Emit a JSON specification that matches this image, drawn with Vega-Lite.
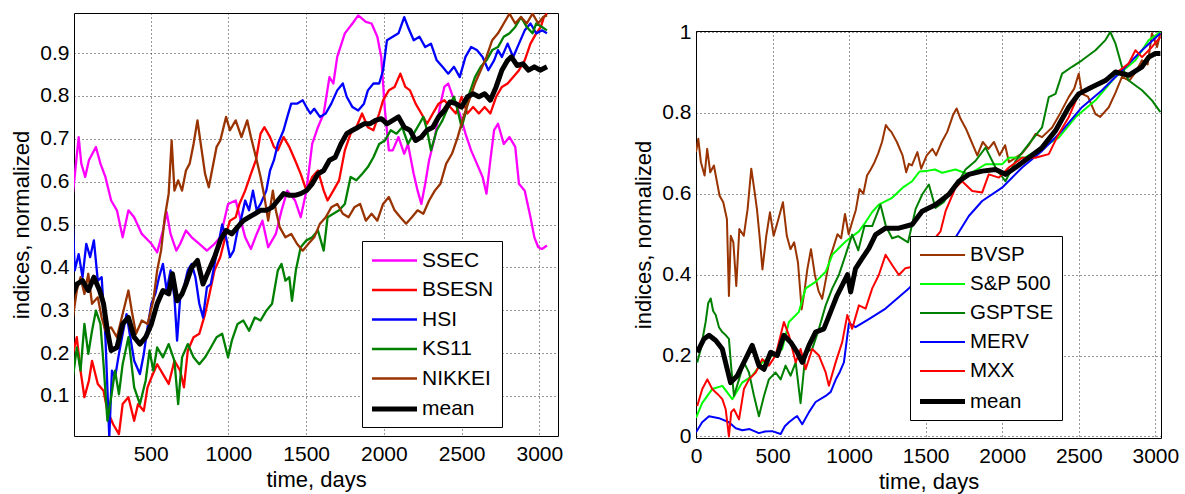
{
"$schema": "https://vega.github.io/schema/vega-lite/v6.json",
"background": "white",
"padding": {"left": 10, "top": 9, "right": 2, "bottom": 2},
"config": {
 "font": "Liberation Sans",
 "view": {"stroke": "#000", "strokeWidth": 1},
 "axis": {"grid": true, "gridColor": "#000", "gridDash": [1, 3], "gridOpacity": 0.8, "gridWidth": 1, "domain": false, "ticks": false, "labelFontSize": 21, "labelColor": "#000", "labelPadding": 7, "labelFlush": false, "labelOverlap": false, "titleFontSize": 22, "titleFontWeight": "normal", "titleColor": "#000", "titlePadding": 5},
 "axisX": {"format": "d"},
 "axisY": {"labelPadding": 5, "titlePadding": 6, "format": "~g"},
 "legend": {"orient": "none", "title": null, "fillColor": "white", "strokeColor": "#000", "padding": 8, "labelFontSize": 21, "labelColor": "#000", "symbolType": "M-2.25,0H2.25", "symbolSize": 400, "symbolOffset": 12, "labelOffset": 15, "rowPadding": 7.5, "labelLimit": 300}
},
"datasets": {
"L": [
{"s":"SSEC","d":0,"v":0.572},{"s":"SSEC","d":37,"v":0.704},{"s":"SSEC","d":54,"v":0.642},{"s":"SSEC","d":79,"v":0.611},{"s":"SSEC","d":103,"v":0.65},{"s":"SSEC","d":148,"v":0.681},{"s":"SSEC","d":177,"v":0.642},{"s":"SSEC","d":209,"v":0.611},{"s":"SSEC","d":246,"v":0.556},{"s":"SSEC","d":283,"v":0.533},{"s":"SSEC","d":320,"v":0.47},{"s":"SSEC","d":357,"v":0.533},{"s":"SSEC","d":394,"v":0.517},{"s":"SSEC","d":443,"v":0.478},{"s":"SSEC","d":505,"v":0.455},{"s":"SSEC","d":542,"v":0.435},{"s":"SSEC","d":579,"v":0.486},{"s":"SSEC","d":603,"v":0.529},{"s":"SSEC","d":628,"v":0.478},{"s":"SSEC","d":665,"v":0.439},{"s":"SSEC","d":690,"v":0.455},{"s":"SSEC","d":727,"v":0.486},{"s":"SSEC","d":764,"v":0.47},{"s":"SSEC","d":813,"v":0.455},{"s":"SSEC","d":862,"v":0.439},{"s":"SSEC","d":911,"v":0.455},{"s":"SSEC","d":948,"v":0.47},{"s":"SSEC","d":998,"v":0.548},{"s":"SSEC","d":1047,"v":0.556},{"s":"SSEC","d":1108,"v":0.47},{"s":"SSEC","d":1145,"v":0.443},{"s":"SSEC","d":1182,"v":0.478},{"s":"SSEC","d":1219,"v":0.509},{"s":"SSEC","d":1256,"v":0.447},{"s":"SSEC","d":1305,"v":0.478},{"s":"SSEC","d":1342,"v":0.533},{"s":"SSEC","d":1379,"v":0.579},{"s":"SSEC","d":1429,"v":0.556},{"s":"SSEC","d":1465,"v":0.517},{"s":"SSEC","d":1502,"v":0.579},{"s":"SSEC","d":1539,"v":0.688},{"s":"SSEC","d":1576,"v":0.727},{"s":"SSEC","d":1613,"v":0.759},{"s":"SSEC","d":1650,"v":0.844},{"s":"SSEC","d":1675,"v":0.829},{"s":"SSEC","d":1700,"v":0.891},{"s":"SSEC","d":1749,"v":0.946},{"s":"SSEC","d":1798,"v":0.969},{"s":"SSEC","d":1835,"v":0.988},{"s":"SSEC","d":1884,"v":0.973},{"s":"SSEC","d":1921,"v":0.969},{"s":"SSEC","d":1958,"v":0.938},{"s":"SSEC","d":1983,"v":0.891},{"s":"SSEC","d":2007,"v":0.766},{"s":"SSEC","d":2032,"v":0.673},{"s":"SSEC","d":2057,"v":0.673},{"s":"SSEC","d":2094,"v":0.704},{"s":"SSEC","d":2131,"v":0.665},{"s":"SSEC","d":2155,"v":0.688},{"s":"SSEC","d":2192,"v":0.618},{"s":"SSEC","d":2217,"v":0.579},{"s":"SSEC","d":2241,"v":0.548},{"s":"SSEC","d":2266,"v":0.595},{"s":"SSEC","d":2291,"v":0.65},{"s":"SSEC","d":2328,"v":0.704},{"s":"SSEC","d":2364,"v":0.782},{"s":"SSEC","d":2389,"v":0.821},{"s":"SSEC","d":2414,"v":0.829},{"s":"SSEC","d":2451,"v":0.79},{"s":"SSEC","d":2488,"v":0.759},{"s":"SSEC","d":2525,"v":0.712},{"s":"SSEC","d":2561,"v":0.673},{"s":"SSEC","d":2598,"v":0.642},{"s":"SSEC","d":2635,"v":0.611},{"s":"SSEC","d":2660,"v":0.572},{"s":"SSEC","d":2685,"v":0.65},{"s":"SSEC","d":2709,"v":0.72},{"s":"SSEC","d":2734,"v":0.735},{"s":"SSEC","d":2771,"v":0.688},{"s":"SSEC","d":2808,"v":0.704},{"s":"SSEC","d":2845,"v":0.681},{"s":"SSEC","d":2869,"v":0.595},{"s":"SSEC","d":2906,"v":0.579},{"s":"SSEC","d":2943,"v":0.517},{"s":"SSEC","d":2968,"v":0.47},{"s":"SSEC","d":2993,"v":0.447},{"s":"SSEC","d":3017,"v":0.443},{"s":"SSEC","d":3049,"v":0.451},
{"s":"BSESN","d":0,"v":0.198},{"s":"BSESN","d":25,"v":0.237},{"s":"BSESN","d":49,"v":0.159},{"s":"BSESN","d":74,"v":0.097},{"s":"BSESN","d":103,"v":0.136},{"s":"BSESN","d":123,"v":0.182},{"s":"BSESN","d":160,"v":0.128},{"s":"BSESN","d":197,"v":0.112},{"s":"BSESN","d":222,"v":0.065},{"s":"BSESN","d":259,"v":0.034},{"s":"BSESN","d":296,"v":0.011},{"s":"BSESN","d":320,"v":0.081},{"s":"BSESN","d":357,"v":0.097},{"s":"BSESN","d":394,"v":0.042},{"s":"BSESN","d":419,"v":0.081},{"s":"BSESN","d":456,"v":0.065},{"s":"BSESN","d":480,"v":0.12},{"s":"BSESN","d":505,"v":0.143},{"s":"BSESN","d":542,"v":0.174},{"s":"BSESN","d":579,"v":0.151},{"s":"BSESN","d":616,"v":0.128},{"s":"BSESN","d":653,"v":0.182},{"s":"BSESN","d":690,"v":0.159},{"s":"BSESN","d":714,"v":0.12},{"s":"BSESN","d":739,"v":0.206},{"s":"BSESN","d":776,"v":0.237},{"s":"BSESN","d":813,"v":0.245},{"s":"BSESN","d":850,"v":0.291},{"s":"BSESN","d":874,"v":0.33},{"s":"BSESN","d":911,"v":0.393},{"s":"BSESN","d":948,"v":0.424},{"s":"BSESN","d":985,"v":0.478},{"s":"BSESN","d":1010,"v":0.509},{"s":"BSESN","d":1047,"v":0.517},{"s":"BSESN","d":1071,"v":0.548},{"s":"BSESN","d":1108,"v":0.579},{"s":"BSESN","d":1145,"v":0.618},{"s":"BSESN","d":1177,"v":0.65},{"s":"BSESN","d":1207,"v":0.712},{"s":"BSESN","d":1232,"v":0.727},{"s":"BSESN","d":1268,"v":0.704},{"s":"BSESN","d":1293,"v":0.681},{"s":"BSESN","d":1318,"v":0.673},{"s":"BSESN","d":1355,"v":0.704},{"s":"BSESN","d":1392,"v":0.681},{"s":"BSESN","d":1429,"v":0.65},{"s":"BSESN","d":1465,"v":0.618},{"s":"BSESN","d":1502,"v":0.579},{"s":"BSESN","d":1539,"v":0.611},{"s":"BSESN","d":1576,"v":0.626},{"s":"BSESN","d":1613,"v":0.579},{"s":"BSESN","d":1638,"v":0.556},{"s":"BSESN","d":1675,"v":0.579},{"s":"BSESN","d":1712,"v":0.603},{"s":"BSESN","d":1749,"v":0.673},{"s":"BSESN","d":1786,"v":0.712},{"s":"BSESN","d":1823,"v":0.727},{"s":"BSESN","d":1860,"v":0.759},{"s":"BSESN","d":1897,"v":0.727},{"s":"BSESN","d":1933,"v":0.72},{"s":"BSESN","d":1970,"v":0.759},{"s":"BSESN","d":1995,"v":0.79},{"s":"BSESN","d":2032,"v":0.813},{"s":"BSESN","d":2069,"v":0.821},{"s":"BSESN","d":2106,"v":0.852},{"s":"BSESN","d":2138,"v":0.821},{"s":"BSESN","d":2168,"v":0.813},{"s":"BSESN","d":2204,"v":0.782},{"s":"BSESN","d":2241,"v":0.759},{"s":"BSESN","d":2278,"v":0.735},{"s":"BSESN","d":2315,"v":0.759},{"s":"BSESN","d":2352,"v":0.782},{"s":"BSESN","d":2389,"v":0.79},{"s":"BSESN","d":2426,"v":0.774},{"s":"BSESN","d":2463,"v":0.759},{"s":"BSESN","d":2500,"v":0.798},{"s":"BSESN","d":2537,"v":0.759},{"s":"BSESN","d":2574,"v":0.774},{"s":"BSESN","d":2611,"v":0.759},{"s":"BSESN","d":2648,"v":0.774},{"s":"BSESN","d":2685,"v":0.759},{"s":"BSESN","d":2722,"v":0.798},{"s":"BSESN","d":2759,"v":0.821},{"s":"BSESN","d":2796,"v":0.829},{"s":"BSESN","d":2832,"v":0.844},{"s":"BSESN","d":2869,"v":0.86},{"s":"BSESN","d":2906,"v":0.883},{"s":"BSESN","d":2943,"v":0.922},{"s":"BSESN","d":2980,"v":0.946},{"s":"BSESN","d":3010,"v":0.961},{"s":"BSESN","d":3029,"v":0.984},{"s":"BSESN","d":3049,"v":0.992},
{"s":"HSI","d":0,"v":0.5},{"s":"HSI","d":12,"v":0.393},{"s":"HSI","d":37,"v":0.431},{"s":"HSI","d":62,"v":0.377},{"s":"HSI","d":86,"v":0.455},{"s":"HSI","d":111,"v":0.424},{"s":"HSI","d":135,"v":0.463},{"s":"HSI","d":160,"v":0.369},{"s":"HSI","d":185,"v":0.377},{"s":"HSI","d":209,"v":0.237},{"s":"HSI","d":234,"v":0.003},{"s":"HSI","d":251,"v":0.159},{"s":"HSI","d":271,"v":0.143},{"s":"HSI","d":296,"v":0.198},{"s":"HSI","d":320,"v":0.245},{"s":"HSI","d":345,"v":0.291},{"s":"HSI","d":369,"v":0.237},{"s":"HSI","d":394,"v":0.182},{"s":"HSI","d":431,"v":0.151},{"s":"HSI","d":456,"v":0.198},{"s":"HSI","d":480,"v":0.26},{"s":"HSI","d":505,"v":0.315},{"s":"HSI","d":530,"v":0.338},{"s":"HSI","d":554,"v":0.377},{"s":"HSI","d":579,"v":0.408},{"s":"HSI","d":603,"v":0.346},{"s":"HSI","d":628,"v":0.393},{"s":"HSI","d":653,"v":0.33},{"s":"HSI","d":670,"v":0.229},{"s":"HSI","d":690,"v":0.33},{"s":"HSI","d":714,"v":0.354},{"s":"HSI","d":739,"v":0.393},{"s":"HSI","d":764,"v":0.408},{"s":"HSI","d":788,"v":0.377},{"s":"HSI","d":813,"v":0.315},{"s":"HSI","d":837,"v":0.283},{"s":"HSI","d":862,"v":0.354},{"s":"HSI","d":887,"v":0.361},{"s":"HSI","d":911,"v":0.408},{"s":"HSI","d":936,"v":0.455},{"s":"HSI","d":960,"v":0.5},{"s":"HSI","d":985,"v":0.47},{"s":"HSI","d":1010,"v":0.424},{"s":"HSI","d":1034,"v":0.439},{"s":"HSI","d":1059,"v":0.486},{"s":"HSI","d":1084,"v":0.517},{"s":"HSI","d":1108,"v":0.556},{"s":"HSI","d":1133,"v":0.533},{"s":"HSI","d":1158,"v":0.579},{"s":"HSI","d":1182,"v":0.533},{"s":"HSI","d":1207,"v":0.548},{"s":"HSI","d":1244,"v":0.579},{"s":"HSI","d":1268,"v":0.626},{"s":"HSI","d":1293,"v":0.65},{"s":"HSI","d":1318,"v":0.688},{"s":"HSI","d":1355,"v":0.72},{"s":"HSI","d":1379,"v":0.751},{"s":"HSI","d":1404,"v":0.782},{"s":"HSI","d":1441,"v":0.782},{"s":"HSI","d":1478,"v":0.79},{"s":"HSI","d":1502,"v":0.774},{"s":"HSI","d":1527,"v":0.759},{"s":"HSI","d":1552,"v":0.77},{"s":"HSI","d":1589,"v":0.751},{"s":"HSI","d":1626,"v":0.759},{"s":"HSI","d":1662,"v":0.782},{"s":"HSI","d":1700,"v":0.813},{"s":"HSI","d":1736,"v":0.829},{"s":"HSI","d":1761,"v":0.798},{"s":"HSI","d":1798,"v":0.774},{"s":"HSI","d":1835,"v":0.766},{"s":"HSI","d":1872,"v":0.782},{"s":"HSI","d":1897,"v":0.813},{"s":"HSI","d":1933,"v":0.829},{"s":"HSI","d":1970,"v":0.829},{"s":"HSI","d":1995,"v":0.86},{"s":"HSI","d":2020,"v":0.93},{"s":"HSI","d":2057,"v":0.938},{"s":"HSI","d":2094,"v":0.946},{"s":"HSI","d":2131,"v":0.984},{"s":"HSI","d":2155,"v":0.961},{"s":"HSI","d":2192,"v":0.93},{"s":"HSI","d":2229,"v":0.938},{"s":"HSI","d":2266,"v":0.914},{"s":"HSI","d":2303,"v":0.922},{"s":"HSI","d":2340,"v":0.883},{"s":"HSI","d":2377,"v":0.868},{"s":"HSI","d":2414,"v":0.852},{"s":"HSI","d":2451,"v":0.868},{"s":"HSI","d":2488,"v":0.844},{"s":"HSI","d":2525,"v":0.891},{"s":"HSI","d":2561,"v":0.914},{"s":"HSI","d":2598,"v":0.907},{"s":"HSI","d":2635,"v":0.891},{"s":"HSI","d":2672,"v":0.86},{"s":"HSI","d":2709,"v":0.883},{"s":"HSI","d":2734,"v":0.907},{"s":"HSI","d":2759,"v":0.891},{"s":"HSI","d":2796,"v":0.922},{"s":"HSI","d":2832,"v":0.891},{"s":"HSI","d":2869,"v":0.922},{"s":"HSI","d":2906,"v":0.953},{"s":"HSI","d":2943,"v":0.969},{"s":"HSI","d":2980,"v":0.946},{"s":"HSI","d":3017,"v":0.953},{"s":"HSI","d":3049,"v":0.946},
{"s":"KS11","d":0,"v":0.143},{"s":"KS11","d":25,"v":0.213},{"s":"KS11","d":49,"v":0.159},{"s":"KS11","d":74,"v":0.268},{"s":"KS11","d":99,"v":0.198},{"s":"KS11","d":123,"v":0.252},{"s":"KS11","d":148,"v":0.299},{"s":"KS11","d":177,"v":0.268},{"s":"KS11","d":197,"v":0.174},{"s":"KS11","d":222,"v":0.042},{"s":"KS11","d":246,"v":0.097},{"s":"KS11","d":271,"v":0.159},{"s":"KS11","d":296,"v":0.104},{"s":"KS11","d":320,"v":0.174},{"s":"KS11","d":357,"v":0.237},{"s":"KS11","d":394,"v":0.12},{"s":"KS11","d":431,"v":0.081},{"s":"KS11","d":468,"v":0.136},{"s":"KS11","d":493,"v":0.206},{"s":"KS11","d":517,"v":0.159},{"s":"KS11","d":542,"v":0.213},{"s":"KS11","d":579,"v":0.19},{"s":"KS11","d":616,"v":0.221},{"s":"KS11","d":653,"v":0.182},{"s":"KS11","d":677,"v":0.081},{"s":"KS11","d":702,"v":0.19},{"s":"KS11","d":739,"v":0.221},{"s":"KS11","d":776,"v":0.19},{"s":"KS11","d":813,"v":0.174},{"s":"KS11","d":850,"v":0.19},{"s":"KS11","d":887,"v":0.213},{"s":"KS11","d":924,"v":0.237},{"s":"KS11","d":960,"v":0.245},{"s":"KS11","d":998,"v":0.19},{"s":"KS11","d":1022,"v":0.229},{"s":"KS11","d":1059,"v":0.268},{"s":"KS11","d":1096,"v":0.276},{"s":"KS11","d":1133,"v":0.252},{"s":"KS11","d":1170,"v":0.283},{"s":"KS11","d":1207,"v":0.276},{"s":"KS11","d":1244,"v":0.299},{"s":"KS11","d":1281,"v":0.315},{"s":"KS11","d":1318,"v":0.393},{"s":"KS11","d":1342,"v":0.408},{"s":"KS11","d":1367,"v":0.369},{"s":"KS11","d":1392,"v":0.377},{"s":"KS11","d":1409,"v":0.322},{"s":"KS11","d":1434,"v":0.393},{"s":"KS11","d":1465,"v":0.447},{"s":"KS11","d":1502,"v":0.463},{"s":"KS11","d":1539,"v":0.47},{"s":"KS11","d":1576,"v":0.486},{"s":"KS11","d":1613,"v":0.439},{"s":"KS11","d":1638,"v":0.517},{"s":"KS11","d":1675,"v":0.525},{"s":"KS11","d":1712,"v":0.533},{"s":"KS11","d":1749,"v":0.548},{"s":"KS11","d":1786,"v":0.611},{"s":"KS11","d":1823,"v":0.603},{"s":"KS11","d":1860,"v":0.618},{"s":"KS11","d":1897,"v":0.634},{"s":"KS11","d":1933,"v":0.657},{"s":"KS11","d":1970,"v":0.688},{"s":"KS11","d":2007,"v":0.696},{"s":"KS11","d":2044,"v":0.72},{"s":"KS11","d":2081,"v":0.712},{"s":"KS11","d":2118,"v":0.727},{"s":"KS11","d":2155,"v":0.688},{"s":"KS11","d":2192,"v":0.712},{"s":"KS11","d":2229,"v":0.735},{"s":"KS11","d":2254,"v":0.751},{"s":"KS11","d":2278,"v":0.72},{"s":"KS11","d":2303,"v":0.673},{"s":"KS11","d":2340,"v":0.72},{"s":"KS11","d":2377,"v":0.743},{"s":"KS11","d":2414,"v":0.774},{"s":"KS11","d":2451,"v":0.798},{"s":"KS11","d":2475,"v":0.766},{"s":"KS11","d":2500,"v":0.727},{"s":"KS11","d":2525,"v":0.759},{"s":"KS11","d":2549,"v":0.805},{"s":"KS11","d":2586,"v":0.844},{"s":"KS11","d":2623,"v":0.868},{"s":"KS11","d":2660,"v":0.883},{"s":"KS11","d":2697,"v":0.907},{"s":"KS11","d":2734,"v":0.914},{"s":"KS11","d":2771,"v":0.938},{"s":"KS11","d":2808,"v":0.946},{"s":"KS11","d":2845,"v":0.961},{"s":"KS11","d":2882,"v":0.984},{"s":"KS11","d":2919,"v":0.961},{"s":"KS11","d":2956,"v":0.946},{"s":"KS11","d":2980,"v":0.969},{"s":"KS11","d":3017,"v":0.961},{"s":"KS11","d":3049,"v":0.953},
{"s":"NIKKEI","d":0,"v":0.283},{"s":"NIKKEI","d":25,"v":0.346},{"s":"NIKKEI","d":49,"v":0.377},{"s":"NIKKEI","d":74,"v":0.338},{"s":"NIKKEI","d":99,"v":0.385},{"s":"NIKKEI","d":123,"v":0.315},{"s":"NIKKEI","d":160,"v":0.33},{"s":"NIKKEI","d":185,"v":0.283},{"s":"NIKKEI","d":209,"v":0.252},{"s":"NIKKEI","d":246,"v":0.26},{"s":"NIKKEI","d":283,"v":0.237},{"s":"NIKKEI","d":320,"v":0.291},{"s":"NIKKEI","d":357,"v":0.346},{"s":"NIKKEI","d":382,"v":0.291},{"s":"NIKKEI","d":406,"v":0.245},{"s":"NIKKEI","d":443,"v":0.276},{"s":"NIKKEI","d":480,"v":0.268},{"s":"NIKKEI","d":517,"v":0.322},{"s":"NIKKEI","d":542,"v":0.393},{"s":"NIKKEI","d":567,"v":0.439},{"s":"NIKKEI","d":591,"v":0.517},{"s":"NIKKEI","d":616,"v":0.572},{"s":"NIKKEI","d":635,"v":0.696},{"s":"NIKKEI","d":653,"v":0.579},{"s":"NIKKEI","d":677,"v":0.603},{"s":"NIKKEI","d":702,"v":0.579},{"s":"NIKKEI","d":727,"v":0.626},{"s":"NIKKEI","d":751,"v":0.642},{"s":"NIKKEI","d":776,"v":0.688},{"s":"NIKKEI","d":801,"v":0.743},{"s":"NIKKEI","d":825,"v":0.681},{"s":"NIKKEI","d":850,"v":0.618},{"s":"NIKKEI","d":874,"v":0.587},{"s":"NIKKEI","d":899,"v":0.634},{"s":"NIKKEI","d":924,"v":0.681},{"s":"NIKKEI","d":948,"v":0.696},{"s":"NIKKEI","d":985,"v":0.751},{"s":"NIKKEI","d":1010,"v":0.72},{"s":"NIKKEI","d":1047,"v":0.743},{"s":"NIKKEI","d":1084,"v":0.704},{"s":"NIKKEI","d":1121,"v":0.743},{"s":"NIKKEI","d":1145,"v":0.704},{"s":"NIKKEI","d":1182,"v":0.65},{"s":"NIKKEI","d":1207,"v":0.611},{"s":"NIKKEI","d":1232,"v":0.564},{"s":"NIKKEI","d":1256,"v":0.509},{"s":"NIKKEI","d":1286,"v":0.579},{"s":"NIKKEI","d":1305,"v":0.533},{"s":"NIKKEI","d":1330,"v":0.494},{"s":"NIKKEI","d":1367,"v":0.47},{"s":"NIKKEI","d":1404,"v":0.478},{"s":"NIKKEI","d":1441,"v":0.455},{"s":"NIKKEI","d":1478,"v":0.439},{"s":"NIKKEI","d":1515,"v":0.455},{"s":"NIKKEI","d":1552,"v":0.47},{"s":"NIKKEI","d":1589,"v":0.502},{"s":"NIKKEI","d":1626,"v":0.517},{"s":"NIKKEI","d":1662,"v":0.54},{"s":"NIKKEI","d":1700,"v":0.548},{"s":"NIKKEI","d":1736,"v":0.525},{"s":"NIKKEI","d":1773,"v":0.517},{"s":"NIKKEI","d":1810,"v":0.54},{"s":"NIKKEI","d":1847,"v":0.548},{"s":"NIKKEI","d":1884,"v":0.509},{"s":"NIKKEI","d":1921,"v":0.525},{"s":"NIKKEI","d":1958,"v":0.509},{"s":"NIKKEI","d":1995,"v":0.548},{"s":"NIKKEI","d":2032,"v":0.564},{"s":"NIKKEI","d":2069,"v":0.533},{"s":"NIKKEI","d":2106,"v":0.517},{"s":"NIKKEI","d":2143,"v":0.502},{"s":"NIKKEI","d":2180,"v":0.517},{"s":"NIKKEI","d":2217,"v":0.533},{"s":"NIKKEI","d":2254,"v":0.525},{"s":"NIKKEI","d":2291,"v":0.556},{"s":"NIKKEI","d":2328,"v":0.579},{"s":"NIKKEI","d":2364,"v":0.595},{"s":"NIKKEI","d":2401,"v":0.642},{"s":"NIKKEI","d":2438,"v":0.665},{"s":"NIKKEI","d":2475,"v":0.704},{"s":"NIKKEI","d":2512,"v":0.751},{"s":"NIKKEI","d":2549,"v":0.79},{"s":"NIKKEI","d":2586,"v":0.829},{"s":"NIKKEI","d":2623,"v":0.86},{"s":"NIKKEI","d":2660,"v":0.891},{"s":"NIKKEI","d":2697,"v":0.93},{"s":"NIKKEI","d":2734,"v":0.946},{"s":"NIKKEI","d":2771,"v":0.969},{"s":"NIKKEI","d":2808,"v":0.992},{"s":"NIKKEI","d":2845,"v":0.969},{"s":"NIKKEI","d":2882,"v":0.984},{"s":"NIKKEI","d":2919,"v":0.969},{"s":"NIKKEI","d":2956,"v":0.992},{"s":"NIKKEI","d":2993,"v":0.969},{"s":"NIKKEI","d":3025,"v":0.984},{"s":"NIKKEI","d":3049,"v":0.988},
{"s":"mean","d":0,"v":0.338},{"s":"mean","d":25,"v":0.361},{"s":"mean","d":62,"v":0.369},{"s":"mean","d":99,"v":0.346},{"s":"mean","d":135,"v":0.377},{"s":"mean","d":172,"v":0.346},{"s":"mean","d":197,"v":0.315},{"s":"mean","d":222,"v":0.252},{"s":"mean","d":246,"v":0.206},{"s":"mean","d":283,"v":0.213},{"s":"mean","d":320,"v":0.268},{"s":"mean","d":357,"v":0.283},{"s":"mean","d":394,"v":0.237},{"s":"mean","d":431,"v":0.221},{"s":"mean","d":468,"v":0.237},{"s":"mean","d":505,"v":0.268},{"s":"mean","d":542,"v":0.315},{"s":"mean","d":579,"v":0.346},{"s":"mean","d":616,"v":0.338},{"s":"mean","d":640,"v":0.385},{"s":"mean","d":670,"v":0.322},{"s":"mean","d":702,"v":0.338},{"s":"mean","d":727,"v":0.361},{"s":"mean","d":764,"v":0.4},{"s":"mean","d":801,"v":0.416},{"s":"mean","d":837,"v":0.361},{"s":"mean","d":874,"v":0.393},{"s":"mean","d":911,"v":0.424},{"s":"mean","d":948,"v":0.463},{"s":"mean","d":985,"v":0.486},{"s":"mean","d":1022,"v":0.478},{"s":"mean","d":1059,"v":0.494},{"s":"mean","d":1096,"v":0.509},{"s":"mean","d":1133,"v":0.517},{"s":"mean","d":1170,"v":0.525},{"s":"mean","d":1207,"v":0.533},{"s":"mean","d":1244,"v":0.533},{"s":"mean","d":1281,"v":0.54},{"s":"mean","d":1318,"v":0.556},{"s":"mean","d":1355,"v":0.572},{"s":"mean","d":1392,"v":0.568},{"s":"mean","d":1429,"v":0.568},{"s":"mean","d":1465,"v":0.572},{"s":"mean","d":1502,"v":0.579},{"s":"mean","d":1539,"v":0.595},{"s":"mean","d":1576,"v":0.618},{"s":"mean","d":1613,"v":0.626},{"s":"mean","d":1650,"v":0.65},{"s":"mean","d":1687,"v":0.657},{"s":"mean","d":1724,"v":0.688},{"s":"mean","d":1761,"v":0.712},{"s":"mean","d":1798,"v":0.72},{"s":"mean","d":1835,"v":0.727},{"s":"mean","d":1872,"v":0.735},{"s":"mean","d":1909,"v":0.735},{"s":"mean","d":1946,"v":0.743},{"s":"mean","d":1983,"v":0.747},{"s":"mean","d":2020,"v":0.735},{"s":"mean","d":2057,"v":0.743},{"s":"mean","d":2094,"v":0.751},{"s":"mean","d":2131,"v":0.727},{"s":"mean","d":2168,"v":0.72},{"s":"mean","d":2204,"v":0.696},{"s":"mean","d":2241,"v":0.704},{"s":"mean","d":2278,"v":0.72},{"s":"mean","d":2315,"v":0.727},{"s":"mean","d":2352,"v":0.751},{"s":"mean","d":2389,"v":0.766},{"s":"mean","d":2426,"v":0.786},{"s":"mean","d":2463,"v":0.782},{"s":"mean","d":2500,"v":0.774},{"s":"mean","d":2537,"v":0.798},{"s":"mean","d":2574,"v":0.805},{"s":"mean","d":2611,"v":0.798},{"s":"mean","d":2648,"v":0.805},{"s":"mean","d":2685,"v":0.79},{"s":"mean","d":2722,"v":0.821},{"s":"mean","d":2759,"v":0.86},{"s":"mean","d":2796,"v":0.883},{"s":"mean","d":2820,"v":0.891},{"s":"mean","d":2857,"v":0.871},{"s":"mean","d":2894,"v":0.875},{"s":"mean","d":2931,"v":0.86},{"s":"mean","d":2968,"v":0.868},{"s":"mean","d":3005,"v":0.86},{"s":"mean","d":3049,"v":0.868}
],
"R": [
{"s":"BVSP","d":0,"v":0.703},{"s":"BVSP","d":15,"v":0.736},{"s":"BVSP","d":32,"v":0.678},{"s":"BVSP","d":56,"v":0.645},{"s":"BVSP","d":73,"v":0.711},{"s":"BVSP","d":93,"v":0.653},{"s":"BVSP","d":117,"v":0.67},{"s":"BVSP","d":137,"v":0.629},{"s":"BVSP","d":154,"v":0.595},{"s":"BVSP","d":178,"v":0.579},{"s":"BVSP","d":202,"v":0.537},{"s":"BVSP","d":215,"v":0.347},{"s":"BVSP","d":227,"v":0.496},{"s":"BVSP","d":244,"v":0.48},{"s":"BVSP","d":263,"v":0.372},{"s":"BVSP","d":283,"v":0.513},{"s":"BVSP","d":312,"v":0.496},{"s":"BVSP","d":337,"v":0.562},{"s":"BVSP","d":361,"v":0.662},{"s":"BVSP","d":380,"v":0.612},{"s":"BVSP","d":398,"v":0.562},{"s":"BVSP","d":415,"v":0.496},{"s":"BVSP","d":434,"v":0.413},{"s":"BVSP","d":459,"v":0.496},{"s":"BVSP","d":483,"v":0.554},{"s":"BVSP","d":507,"v":0.496},{"s":"BVSP","d":532,"v":0.529},{"s":"BVSP","d":568,"v":0.579},{"s":"BVSP","d":593,"v":0.496},{"s":"BVSP","d":617,"v":0.463},{"s":"BVSP","d":641,"v":0.48},{"s":"BVSP","d":666,"v":0.43},{"s":"BVSP","d":690,"v":0.314},{"s":"BVSP","d":707,"v":0.355},{"s":"BVSP","d":727,"v":0.413},{"s":"BVSP","d":751,"v":0.463},{"s":"BVSP","d":776,"v":0.4},{"s":"BVSP","d":800,"v":0.36},{"s":"BVSP","d":824,"v":0.34},{"s":"BVSP","d":849,"v":0.39},{"s":"BVSP","d":874,"v":0.44},{"s":"BVSP","d":899,"v":0.47},{"s":"BVSP","d":924,"v":0.5},{"s":"BVSP","d":948,"v":0.49},{"s":"BVSP","d":973,"v":0.55},{"s":"BVSP","d":997,"v":0.5},{"s":"BVSP","d":1020,"v":0.53},{"s":"BVSP","d":1044,"v":0.56},{"s":"BVSP","d":1068,"v":0.612},{"s":"BVSP","d":1093,"v":0.6},{"s":"BVSP","d":1117,"v":0.645},{"s":"BVSP","d":1141,"v":0.66},{"s":"BVSP","d":1166,"v":0.678},{"s":"BVSP","d":1190,"v":0.7},{"s":"BVSP","d":1215,"v":0.728},{"s":"BVSP","d":1240,"v":0.77},{"s":"BVSP","d":1258,"v":0.76},{"s":"BVSP","d":1276,"v":0.753},{"s":"BVSP","d":1312,"v":0.728},{"s":"BVSP","d":1349,"v":0.695},{"s":"BVSP","d":1373,"v":0.653},{"s":"BVSP","d":1390,"v":0.674},{"s":"BVSP","d":1410,"v":0.67},{"s":"BVSP","d":1446,"v":0.703},{"s":"BVSP","d":1471,"v":0.662},{"s":"BVSP","d":1507,"v":0.695},{"s":"BVSP","d":1544,"v":0.711},{"s":"BVSP","d":1568,"v":0.695},{"s":"BVSP","d":1605,"v":0.728},{"s":"BVSP","d":1641,"v":0.753},{"s":"BVSP","d":1678,"v":0.794},{"s":"BVSP","d":1702,"v":0.811},{"s":"BVSP","d":1727,"v":0.786},{"s":"BVSP","d":1763,"v":0.761},{"s":"BVSP","d":1800,"v":0.728},{"s":"BVSP","d":1837,"v":0.695},{"s":"BVSP","d":1873,"v":0.728},{"s":"BVSP","d":1910,"v":0.711},{"s":"BVSP","d":1946,"v":0.728},{"s":"BVSP","d":1983,"v":0.695},{"s":"BVSP","d":2019,"v":0.72},{"s":"BVSP","d":2044,"v":0.678},{"s":"BVSP","d":2090,"v":0.69},{"s":"BVSP","d":2130,"v":0.7},{"s":"BVSP","d":2173,"v":0.72},{"s":"BVSP","d":2217,"v":0.748},{"s":"BVSP","d":2260,"v":0.74},{"s":"BVSP","d":2326,"v":0.764},{"s":"BVSP","d":2380,"v":0.8},{"s":"BVSP","d":2434,"v":0.839},{"s":"BVSP","d":2470,"v":0.86},{"s":"BVSP","d":2500,"v":0.897},{"s":"BVSP","d":2521,"v":0.847},{"s":"BVSP","d":2560,"v":0.84},{"s":"BVSP","d":2609,"v":0.797},{"s":"BVSP","d":2640,"v":0.79},{"s":"BVSP","d":2696,"v":0.814},{"s":"BVSP","d":2740,"v":0.85},{"s":"BVSP","d":2782,"v":0.889},{"s":"BVSP","d":2830,"v":0.88},{"s":"BVSP","d":2870,"v":0.9},{"s":"BVSP","d":2913,"v":0.93},{"s":"BVSP","d":2950,"v":0.92},{"s":"BVSP","d":2978,"v":0.997},{"s":"BVSP","d":3011,"v":0.963},{"s":"BVSP","d":3033,"v":0.997},
{"s":"S&P 500","d":0,"v":0.046},{"s":"S&P 500","d":41,"v":0.083},{"s":"S&P 500","d":106,"v":0.117},{"s":"S&P 500","d":172,"v":0.125},{"s":"S&P 500","d":237,"v":0.092},{"s":"S&P 500","d":302,"v":0.133},{"s":"S&P 500","d":367,"v":0.15},{"s":"S&P 500","d":433,"v":0.183},{"s":"S&P 500","d":498,"v":0.2},{"s":"S&P 500","d":563,"v":0.216},{"s":"S&P 500","d":607,"v":0.283},{"s":"S&P 500","d":672,"v":0.308},{"s":"S&P 500","d":716,"v":0.366},{"s":"S&P 500","d":781,"v":0.382},{"s":"S&P 500","d":847,"v":0.407},{"s":"S&P 500","d":890,"v":0.449},{"s":"S&P 500","d":977,"v":0.482},{"s":"S&P 500","d":1064,"v":0.507},{"s":"S&P 500","d":1108,"v":0.53},{"s":"S&P 500","d":1151,"v":0.555},{"s":"S&P 500","d":1194,"v":0.573},{"s":"S&P 500","d":1281,"v":0.59},{"s":"S&P 500","d":1350,"v":0.615},{"s":"S&P 500","d":1412,"v":0.631},{"s":"S&P 500","d":1460,"v":0.655},{"s":"S&P 500","d":1499,"v":0.656},{"s":"S&P 500","d":1560,"v":0.66},{"s":"S&P 500","d":1608,"v":0.652},{"s":"S&P 500","d":1695,"v":0.66},{"s":"S&P 500","d":1782,"v":0.648},{"s":"S&P 500","d":1891,"v":0.673},{"s":"S&P 500","d":1999,"v":0.673},{"s":"S&P 500","d":2043,"v":0.689},{"s":"S&P 500","d":2150,"v":0.69},{"s":"S&P 500","d":2260,"v":0.714},{"s":"S&P 500","d":2369,"v":0.739},{"s":"S&P 500","d":2478,"v":0.789},{"s":"S&P 500","d":2609,"v":0.831},{"s":"S&P 500","d":2739,"v":0.889},{"s":"S&P 500","d":2870,"v":0.93},{"s":"S&P 500","d":2957,"v":0.98},{"s":"S&P 500","d":3033,"v":1.0},
{"s":"GSPTSE","d":8,"v":0.183},{"s":"GSPTSE","d":31,"v":0.216},{"s":"GSPTSE","d":63,"v":0.283},{"s":"GSPTSE","d":80,"v":0.33},{"s":"GSPTSE","d":96,"v":0.341},{"s":"GSPTSE","d":112,"v":0.31},{"s":"GSPTSE","d":129,"v":0.3},{"s":"GSPTSE","d":150,"v":0.27},{"s":"GSPTSE","d":172,"v":0.258},{"s":"GSPTSE","d":195,"v":0.25},{"s":"GSPTSE","d":215,"v":0.241},{"s":"GSPTSE","d":230,"v":0.17},{"s":"GSPTSE","d":248,"v":0.1},{"s":"GSPTSE","d":281,"v":0.141},{"s":"GSPTSE","d":313,"v":0.183},{"s":"GSPTSE","d":346,"v":0.158},{"s":"GSPTSE","d":379,"v":0.1},{"s":"GSPTSE","d":411,"v":0.05},{"s":"GSPTSE","d":444,"v":0.1},{"s":"GSPTSE","d":476,"v":0.141},{"s":"GSPTSE","d":520,"v":0.158},{"s":"GSPTSE","d":553,"v":0.141},{"s":"GSPTSE","d":585,"v":0.175},{"s":"GSPTSE","d":618,"v":0.15},{"s":"GSPTSE","d":651,"v":0.183},{"s":"GSPTSE","d":683,"v":0.082},{"s":"GSPTSE","d":716,"v":0.208},{"s":"GSPTSE","d":759,"v":0.216},{"s":"GSPTSE","d":803,"v":0.266},{"s":"GSPTSE","d":847,"v":0.324},{"s":"GSPTSE","d":890,"v":0.366},{"s":"GSPTSE","d":933,"v":0.399},{"s":"GSPTSE","d":977,"v":0.449},{"s":"GSPTSE","d":1020,"v":0.499},{"s":"GSPTSE","d":1060,"v":0.46},{"s":"GSPTSE","d":1100,"v":0.52},{"s":"GSPTSE","d":1151,"v":0.52},{"s":"GSPTSE","d":1205,"v":0.573},{"s":"GSPTSE","d":1240,"v":0.52},{"s":"GSPTSE","d":1281,"v":0.49},{"s":"GSPTSE","d":1320,"v":0.495},{"s":"GSPTSE","d":1385,"v":0.48},{"s":"GSPTSE","d":1434,"v":0.562},{"s":"GSPTSE","d":1477,"v":0.598},{"s":"GSPTSE","d":1521,"v":0.623},{"s":"GSPTSE","d":1564,"v":0.565},{"s":"GSPTSE","d":1617,"v":0.579},{"s":"GSPTSE","d":1651,"v":0.598},{"s":"GSPTSE","d":1700,"v":0.62},{"s":"GSPTSE","d":1760,"v":0.66},{"s":"GSPTSE","d":1825,"v":0.681},{"s":"GSPTSE","d":1891,"v":0.714},{"s":"GSPTSE","d":1956,"v":0.665},{"s":"GSPTSE","d":2021,"v":0.631},{"s":"GSPTSE","d":2087,"v":0.681},{"s":"GSPTSE","d":2173,"v":0.723},{"s":"GSPTSE","d":2260,"v":0.764},{"s":"GSPTSE","d":2304,"v":0.839},{"s":"GSPTSE","d":2348,"v":0.847},{"s":"GSPTSE","d":2391,"v":0.897},{"s":"GSPTSE","d":2456,"v":0.914},{"s":"GSPTSE","d":2521,"v":0.93},{"s":"GSPTSE","d":2609,"v":0.955},{"s":"GSPTSE","d":2674,"v":0.98},{"s":"GSPTSE","d":2706,"v":1.0},{"s":"GSPTSE","d":2739,"v":0.972},{"s":"GSPTSE","d":2782,"v":0.914},{"s":"GSPTSE","d":2826,"v":0.88},{"s":"GSPTSE","d":2913,"v":0.856},{"s":"GSPTSE","d":2978,"v":0.831},{"s":"GSPTSE","d":3033,"v":0.802},
{"s":"MERV","d":0,"v":0.01},{"s":"MERV","d":40,"v":0.035},{"s":"MERV","d":85,"v":0.05},{"s":"MERV","d":150,"v":0.045},{"s":"MERV","d":215,"v":0.035},{"s":"MERV","d":260,"v":0.02},{"s":"MERV","d":302,"v":0.015},{"s":"MERV","d":350,"v":0.018},{"s":"MERV","d":411,"v":0.008},{"s":"MERV","d":450,"v":0.012},{"s":"MERV","d":498,"v":0.013},{"s":"MERV","d":553,"v":0.006},{"s":"MERV","d":580,"v":0.025},{"s":"MERV","d":607,"v":0.035},{"s":"MERV","d":640,"v":0.045},{"s":"MERV","d":661,"v":0.05},{"s":"MERV","d":694,"v":0.03},{"s":"MERV","d":738,"v":0.06},{"s":"MERV","d":781,"v":0.085},{"s":"MERV","d":847,"v":0.1},{"s":"MERV","d":880,"v":0.11},{"s":"MERV","d":912,"v":0.14},{"s":"MERV","d":940,"v":0.16},{"s":"MERV","d":966,"v":0.183},{"s":"MERV","d":999,"v":0.28},{"s":"MERV","d":1042,"v":0.27},{"s":"MERV","d":1129,"v":0.29},{"s":"MERV","d":1238,"v":0.316},{"s":"MERV","d":1390,"v":0.366},{"s":"MERV","d":1500,"v":0.41},{"s":"MERV","d":1600,"v":0.455},{"s":"MERV","d":1702,"v":0.496},{"s":"MERV","d":1782,"v":0.545},{"s":"MERV","d":1869,"v":0.582},{"s":"MERV","d":1999,"v":0.615},{"s":"MERV","d":2130,"v":0.665},{"s":"MERV","d":2260,"v":0.706},{"s":"MERV","d":2391,"v":0.756},{"s":"MERV","d":2521,"v":0.814},{"s":"MERV","d":2652,"v":0.856},{"s":"MERV","d":2782,"v":0.905},{"s":"MERV","d":2913,"v":0.955},{"s":"MERV","d":3033,"v":0.997},
{"s":"MXX","d":8,"v":0.075},{"s":"MXX","d":41,"v":0.117},{"s":"MXX","d":74,"v":0.141},{"s":"MXX","d":106,"v":0.117},{"s":"MXX","d":140,"v":0.105},{"s":"MXX","d":172,"v":0.092},{"s":"MXX","d":194,"v":0.067},{"s":"MXX","d":215,"v":0.0},{"s":"MXX","d":230,"v":0.06},{"s":"MXX","d":248,"v":0.067},{"s":"MXX","d":281,"v":0.042},{"s":"MXX","d":313,"v":0.117},{"s":"MXX","d":346,"v":0.141},{"s":"MXX","d":390,"v":0.158},{"s":"MXX","d":433,"v":0.191},{"s":"MXX","d":476,"v":0.175},{"s":"MXX","d":520,"v":0.2},{"s":"MXX","d":574,"v":0.283},{"s":"MXX","d":607,"v":0.25},{"s":"MXX","d":651,"v":0.183},{"s":"MXX","d":683,"v":0.216},{"s":"MXX","d":716,"v":0.166},{"s":"MXX","d":759,"v":0.216},{"s":"MXX","d":803,"v":0.2},{"s":"MXX","d":847,"v":0.158},{"s":"MXX","d":868,"v":0.125},{"s":"MXX","d":912,"v":0.183},{"s":"MXX","d":955,"v":0.233},{"s":"MXX","d":988,"v":0.3},{"s":"MXX","d":1020,"v":0.266},{"s":"MXX","d":1064,"v":0.324},{"s":"MXX","d":1108,"v":0.316},{"s":"MXX","d":1151,"v":0.366},{"s":"MXX","d":1194,"v":0.399},{"s":"MXX","d":1238,"v":0.449},{"s":"MXX","d":1281,"v":0.424},{"s":"MXX","d":1325,"v":0.399},{"s":"MXX","d":1368,"v":0.416},{"s":"MXX","d":1420,"v":0.42},{"s":"MXX","d":1500,"v":0.46},{"s":"MXX","d":1560,"v":0.49},{"s":"MXX","d":1597,"v":0.507},{"s":"MXX","d":1630,"v":0.557},{"s":"MXX","d":1695,"v":0.615},{"s":"MXX","d":1738,"v":0.631},{"s":"MXX","d":1804,"v":0.607},{"s":"MXX","d":1869,"v":0.603},{"s":"MXX","d":1912,"v":0.648},{"s":"MXX","d":1978,"v":0.64},{"s":"MXX","d":2043,"v":0.665},{"s":"MXX","d":2130,"v":0.689},{"s":"MXX","d":2217,"v":0.689},{"s":"MXX","d":2304,"v":0.698},{"s":"MXX","d":2369,"v":0.748},{"s":"MXX","d":2434,"v":0.789},{"s":"MXX","d":2500,"v":0.847},{"s":"MXX","d":2565,"v":0.864},{"s":"MXX","d":2652,"v":0.872},{"s":"MXX","d":2739,"v":0.897},{"s":"MXX","d":2826,"v":0.922},{"s":"MXX","d":2870,"v":0.955},{"s":"MXX","d":2913,"v":0.938},{"s":"MXX","d":2978,"v":0.963},{"s":"MXX","d":3033,"v":0.988},
{"s":"mean","d":8,"v":0.208},{"s":"mean","d":52,"v":0.241},{"s":"mean","d":85,"v":0.25},{"s":"mean","d":129,"v":0.237},{"s":"mean","d":172,"v":0.216},{"s":"mean","d":204,"v":0.166},{"s":"mean","d":226,"v":0.133},{"s":"mean","d":270,"v":0.15},{"s":"mean","d":313,"v":0.183},{"s":"mean","d":367,"v":0.225},{"s":"mean","d":411,"v":0.175},{"s":"mean","d":444,"v":0.166},{"s":"mean","d":488,"v":0.208},{"s":"mean","d":531,"v":0.2},{"s":"mean","d":574,"v":0.25},{"s":"mean","d":618,"v":0.233},{"s":"mean","d":661,"v":0.208},{"s":"mean","d":694,"v":0.183},{"s":"mean","d":738,"v":0.225},{"s":"mean","d":781,"v":0.258},{"s":"mean","d":835,"v":0.266},{"s":"mean","d":879,"v":0.308},{"s":"mean","d":922,"v":0.349},{"s":"mean","d":966,"v":0.382},{"s":"mean","d":990,"v":0.4},{"s":"mean","d":1010,"v":0.357},{"s":"mean","d":1042,"v":0.415},{"s":"mean","d":1085,"v":0.44},{"s":"mean","d":1129,"v":0.465},{"s":"mean","d":1173,"v":0.499},{"s":"mean","d":1238,"v":0.515},{"s":"mean","d":1325,"v":0.515},{"s":"mean","d":1412,"v":0.524},{"s":"mean","d":1477,"v":0.557},{"s":"mean","d":1564,"v":0.573},{"s":"mean","d":1651,"v":0.598},{"s":"mean","d":1717,"v":0.631},{"s":"mean","d":1782,"v":0.648},{"s":"mean","d":1869,"v":0.656},{"s":"mean","d":1956,"v":0.66},{"s":"mean","d":2021,"v":0.648},{"s":"mean","d":2087,"v":0.665},{"s":"mean","d":2173,"v":0.689},{"s":"mean","d":2260,"v":0.714},{"s":"mean","d":2348,"v":0.756},{"s":"mean","d":2434,"v":0.814},{"s":"mean","d":2500,"v":0.847},{"s":"mean","d":2587,"v":0.864},{"s":"mean","d":2674,"v":0.88},{"s":"mean","d":2739,"v":0.901},{"s":"mean","d":2826,"v":0.893},{"s":"mean","d":2913,"v":0.914},{"s":"mean","d":2957,"v":0.938},{"s":"mean","d":3000,"v":0.947},{"s":"mean","d":3033,"v":0.947}
]
},
"spacing": 68,
"hconcat": [
{
 "width": 484, "height": 423,
 "data": {"name": "L"},
 "mark": {"type": "line", "clip": true, "strokeJoin": "round"},
 "encoding": {
  "x": {"field": "d", "type": "quantitative", "scale": {"domain": [7, 3120], "nice": false, "zero": false}, "axis": {"values": [500, 1000, 1500, 2000, 2500, 3000], "title": "time, days"}},
  "y": {"field": "v", "type": "quantitative", "scale": {"domain": [0.0065, 0.9935], "nice": false, "zero": false}, "axis": {"values": [0.1, 0.2, 0.3, 0.4, 0.5, 0.6, 0.7, 0.8, 0.9], "title": "indices, normalized"}},
  "color": {"field": "s", "type": "nominal", "scale": {"domain": ["SSEC", "BSESN", "HSI", "KS11", "NIKKEI", "mean"], "range": ["#ff00ff", "#ff0000", "#0000ff", "#008000", "#993300", "#000000"]}, "legend": {"legendX": 288, "legendY": 228}},
  "strokeWidth": {"field": "s", "type": "nominal", "scale": {"type": "ordinal", "domain": ["SSEC", "BSESN", "HSI", "KS11", "NIKKEI", "mean"], "range": [2.3, 2.3, 2.3, 2.3, 2.3, 5]}, "legend": {"legendX": 288, "legendY": 228}}
 }
},
{
 "spacing": 0,
 "vconcat": [
  {
   "width": 465, "height": 4,
   "view": {"stroke": null},
   "data": {"values": [{"t": ""}]},
   "mark": {"type": "text", "opacity": 0},
   "encoding": {"text": {"field": "t", "type": "nominal"}}
  },
  {
   "width": 465, "height": 407,
   "data": {"name": "R"},
   "mark": {"type": "line", "clip": true, "strokeJoin": "round"},
   "encoding": {
    "x": {"field": "d", "type": "quantitative", "scale": {"domain": [0, 3037], "nice": false, "zero": false}, "axis": {"values": [0, 500, 1000, 1500, 2000, 2500, 3000], "title": "time, days"}},
    "y": {"field": "v", "type": "quantitative", "scale": {"domain": [-0.004, 1.0025], "nice": false, "zero": false}, "axis": {"values": [0, 0.2, 0.4, 0.6, 0.8, 1], "title": "indices, normalized"}},
    "color": {"field": "s", "type": "nominal", "scale": {"domain": ["BVSP", "S&P 500", "GSPTSE", "MERV", "MXX", "mean"], "range": ["#993300", "#00ff00", "#008000", "#0000ff", "#ff0000", "#000000"]}, "legend": {"legendX": 214, "legendY": 205, "labelFontSize": 20.5, "rowPadding": 7}},
    "strokeWidth": {"field": "s", "type": "nominal", "scale": {"type": "ordinal", "domain": ["BVSP", "S&P 500", "GSPTSE", "MERV", "MXX", "mean"], "range": [2, 2, 2, 2, 2, 5]}, "legend": {"legendX": 214, "legendY": 205, "labelFontSize": 20.5, "rowPadding": 7}}
   }
  }
 ],
 "resolve": {"scale": {"x": "independent", "y": "independent", "color": "independent", "strokeWidth": "independent"}, "legend": {"color": "independent", "strokeWidth": "independent"}}
}
],
"resolve": {"scale": {"x": "independent", "y": "independent", "color": "independent", "strokeWidth": "independent"}, "legend": {"color": "independent", "strokeWidth": "independent"}}
}
